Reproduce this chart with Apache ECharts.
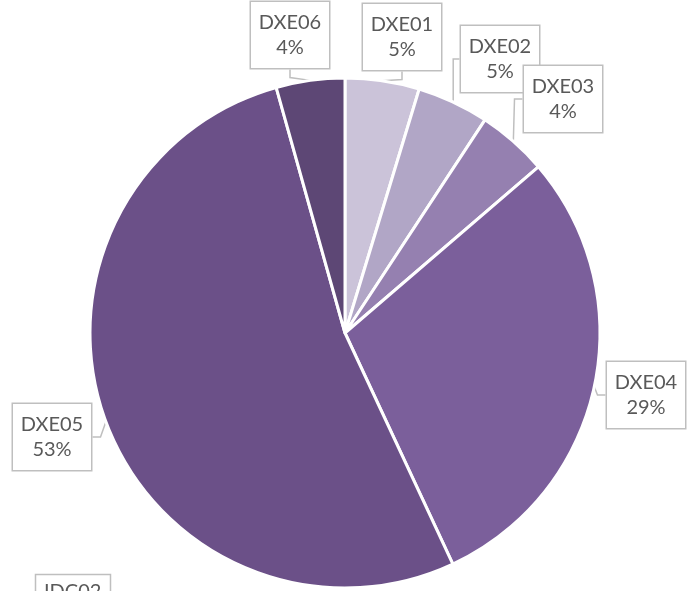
<!DOCTYPE html>
<html>
<head>
<meta charset="utf-8">
<script src="https://cdn.jsdelivr.net/npm/echarts@6/dist/echarts.min.js"></script>
<style>
* { margin: 0; padding: 0; }
html, body { background: #fff; }
</style>
</head>
<body>
<div id="pie" style="width: 693px;height: 591px;"></div>
<script>
// data (slice angles)
var names = ['DXE01', 'DXE02', 'DXE03', 'DXE04', 'DXE05', 'DXE06'];
var values = [4.7, 4.55, 4.45, 29.35, 52.6, 4.35];
var colors = ['#cbc3d9', '#b1a6c6', '#9580b0', '#7b5f9b', '#6b5088', '#5d4775'];

// where the callout boxes sit (centre of box)
var boxPos = [[402, 37], [500, 59], [563, 99], [646, 395], [52, 437], [290, 35]];

var chart = echarts.init(document.getElementById('pie'));
var font = 'Lato, "Open Sans", sans-serif';

chart.setOption({
  animation: false,
  color: colors,
  graphic: [
    {
      type: 'text',
      left: 253,
      top: 333,
      style: { text: 'DXE', fill: '#fff', font: '29px ' + font }
    },
    {
      type: 'rect',
      shape: { x: 35.5, y: 574.5, width: 75, height: 40 },
      style: { fill: '#fff', stroke: '#bfbfbf', lineWidth: 1.5 }
    },
    {
      type: 'text',
      left: 44,
      top: 582,
      style: { text: 'IDC02', fill: '#595959', font: '20px ' + font }
    }
  ],
  series: [
    {
      type: 'pie',
      center: [345, 333],
      radius: [0, 255],
      startAngle: 90,
      clockwise: true,
      percentPrecision: 0,
      itemStyle: { borderColor: '#fff', borderWidth: 3 },
      label: {
        show: true,
        formatter: '{b}\n{d}%',
        fontFamily: font,
        fontSize: 20,
        lineHeight: 25,
        color: '#595959',
        backgroundColor: '#fff',
        borderColor: '#bfbfbf',
        borderWidth: 1.5,
        padding: [8, 9, 8, 9],
        width: 60,
        overflow: 'none',
        align: 'center'
      },
      labelLine: {
        show: true,
        length: 8,
        length2: 8,
        lineStyle: { color: '#bfbfbf', width: 1.5 }
      },
      labelLayout: function (p) {
        var pos = boxPos[p.dataIndex];
        return {
          x: pos[0],
          y: pos[1],
          align: 'center',
          verticalAlign: 'middle'
        };
      },
      emphasis: { disabled: true },
      data: names.map(function (n, i) {
        return { name: n, value: values[i] };
      })
    }
  ]
});
</script>
</body>
</html>
